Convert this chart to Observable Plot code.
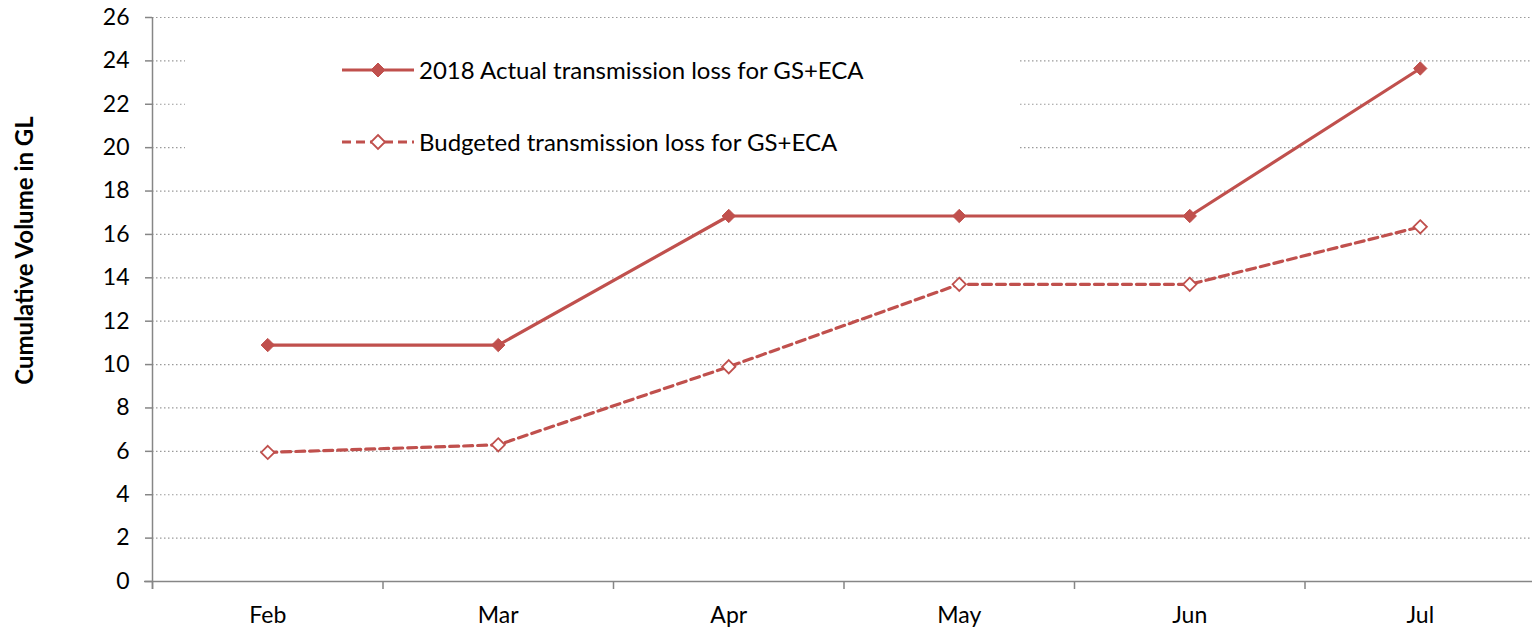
<!DOCTYPE html>
<html>
<head>
<meta charset="utf-8">
<script src="https://cdn.jsdelivr.net/npm/d3@7"></script>
<script src="https://cdn.jsdelivr.net/npm/@observablehq/plot@0.6"></script>
<style>
  html, body { margin: 0; padding: 0; background: #fff; }
  #wrap { position: relative; width: 1532px; height: 630px; font-family: Lato, "Noto Sans", sans-serif; }
  #legend { position: absolute; left: 185px; top: 32px; width: 833px; height: 142px; background: #fff; }
  .item { position: absolute; left: 157px; display: flex; align-items: center; font-size: 24px; color: #000; white-space: nowrap; }
  .item svg { margin-right: 5px; }
</style>
</head>
<body>
<div id="wrap"></div>
<script>
const months = ["Feb", "Mar", "Apr", "May", "Jun", "Jul"];
const actual = [10.9, 10.9, 16.85, 16.85, 16.85, 23.65];
const budget = [5.95, 6.3, 9.9, 13.7, 13.7, 16.35];
const yTicks = [0, 2, 4, 6, 8, 10, 12, 14, 16, 18, 20, 22, 24, 26];
const seriesNames = ["2018 Actual transmission loss for GS+ECA", "Budgeted transmission loss for GS+ECA"];
const yLabel = "Cumulative Volume in GL";
const color = "#C0504D";

const rows = months.flatMap((m, i) => [
  {pos: i + 0.5, month: m, value: actual[i], series: seriesNames[0]},
  {pos: i + 0.5, month: m, value: budget[i], series: seriesNames[1]}
]);
const act = rows.filter(d => d.series === seriesNames[0]);
const bud = rows.filter(d => d.series === seriesNames[1]);
const boundaries = months.map((m, i) => i).concat([months.length]);
const centers = months.map((m, i) => i + 0.5);

const chart = Plot.plot({
  width: 1532,
  height: 630,
  marginLeft: 152,
  marginRight: -3,
  marginTop: 17,
  marginBottom: 49,
  style: {fontFamily: "Lato, 'Noto Sans', sans-serif", background: "#fff"},
  x: {type: "linear", domain: [0, months.length], axis: null},
  y: {domain: [0, 26], axis: null},
  marks: [
    Plot.gridY(yTicks, {stroke: "#9a9a9a", strokeOpacity: 1, strokeWidth: 1.2, strokeDasharray: "1.5,2.5"}),
    Plot.ruleY([0], {stroke: "#868686", strokeWidth: 1.5, insetLeft: -8}),
    Plot.ruleX([0], {stroke: "#868686", strokeWidth: 1.5, insetBottom: -8}),
    Plot.axisY(yTicks, {tickSize: 7, stroke: "#868686", strokeWidth: 1.5, tickPadding: 16, fontSize: 23, fill: "#000", label: null}),
    Plot.axisX(boundaries, {tickSize: 8, stroke: "#868686", strokeWidth: 1.5, tickFormat: () => "", label: null}),
    Plot.axisX(centers, {tickSize: 0, tickPadding: 25, fontSize: 23, fill: "#000", tickFormat: v => months[Math.floor(v)], label: null}),
    Plot.text([yLabel], {frameAnchor: "left", textAnchor: "middle", dx: -127, dy: -49, rotate: -90, fontSize: 24, fontWeight: "bold", fill: "#000"}),
    Plot.line(bud, {x: "pos", y: "value", stroke: color, strokeWidth: 3.2, strokeDasharray: "9,5"}),
    Plot.line(act, {x: "pos", y: "value", stroke: color, strokeWidth: 3.2}),
    Plot.dot(bud, {x: "pos", y: "value", symbol: "diamond2", r: 6, stroke: color, strokeWidth: 1.8, fill: "#fff"}),
    Plot.dot(act, {x: "pos", y: "value", symbol: "diamond2", r: 6, stroke: color, strokeWidth: 1, fill: color})
  ]
});

const wrap = document.getElementById("wrap");
wrap.appendChild(chart);

const legend = document.createElement("div");
legend.id = "legend";
const swatch = (dashed, filled) => `<svg width="72" height="20" viewBox="0 0 72 20">
  <line x1="0" y1="10" x2="72" y2="10" stroke="${color}" stroke-width="3.2" ${dashed ? 'stroke-dasharray="9,5"' : ''}/>
  <path d="M36,3 L43,10 L36,17 L29,10 Z" fill="${filled ? color : '#fff'}" stroke="${color}" stroke-width="${filled ? 1 : 1.8}"/>
</svg>`;
legend.innerHTML = `
  <div class="item" style="top:${71 - 32 - 16}px">${swatch(false, true)}<span>${seriesNames[0]}</span></div>
  <div class="item" style="top:${143 - 32 - 16}px">${swatch(true, false)}<span>${seriesNames[1]}</span></div>`;
wrap.appendChild(legend);
</script>
</body>
</html>
